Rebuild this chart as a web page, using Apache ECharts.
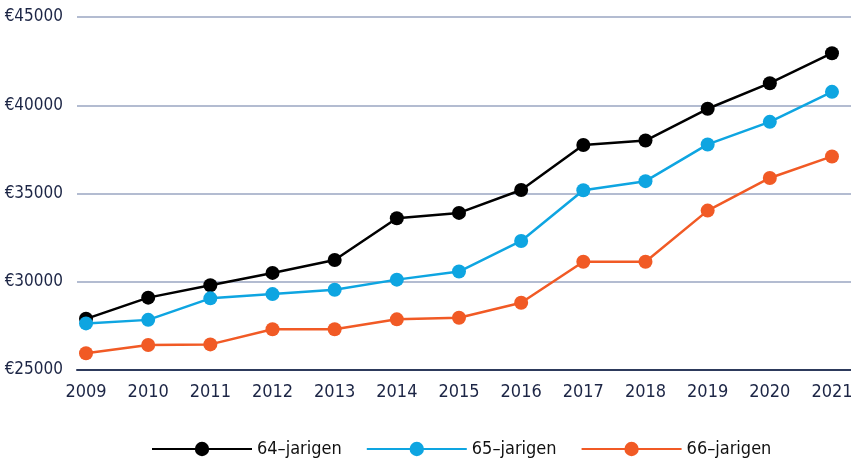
<!DOCTYPE html>
<html>
<head>
<meta charset="utf-8">
<script src="https://cdn.jsdelivr.net/npm/echarts@6/dist/echarts.min.js"></script>
<style>
html,body{margin:0;padding:0;background:#fff;}
#c{width:851px;height:464px;}
</style>
</head>
<body>
<div id="c"></div>
<script>
const years = [2009, 2010, 2011, 2012, 2013, 2014, 2015, 2016, 2017, 2018, 2019, 2020, 2021];
const s64 = [27900, 29100, 29800, 30500, 31230, 33600, 33900, 35200, 37750, 38000, 39800, 41250, 42950];
const s65 = [27640, 27840, 29060, 29300, 29550, 30120, 30580, 32310, 35180, 35700, 37780, 39060, 40760];
const s66 = [25950, 26420, 26450, 27310, 27310, 27870, 27960, 28810, 31130, 31130, 34030, 35880, 37100];
const seriesNames = ['64\u2013jarigen', '65\u2013jarigen', '66\u2013jarigen'];
const yTicks = [25000, 30000, 35000, 40000, 45000];

const FONT = '"DejaVu Sans Condensed", "Liberation Sans Narrow", sans-serif';
const TXT = '#1c2545';
const colors = ['#000000', '#0ea5e1', '#f15a25'];

function pairs(arr){ return years.map((y,i)=>[y, arr[i]]); }

const chart = echarts.init(document.getElementById('c'), null, {renderer:'canvas'});
chart.setOption({
  animation:false,
  grid:{left:77, right:0, top:17, bottom:94, containLabel:false, outerBoundsMode:'none'},
  xAxis:{
    type:'value', min:2008.855, max:2021.306,
    axisLine:{show:true, onZero:false, lineStyle:{color:'#2d3a5c', width:2}},
    axisTick:{show:false},
    splitLine:{show:false},
    axisLabel:{
      customValues: years,
      color:TXT, fontFamily:FONT, fontSize:18, margin:13,
      formatter:v=>String(v)
    }
  },
  yAxis:{
    type:'value', min:25000, max:45000, interval:5000,
    axisLine:{show:false}, axisTick:{show:false},
    splitLine:{lineStyle:{color:'#9aa6c2', width:1.5}},
    axisLabel:{color:TXT, fontFamily:FONT, fontSize:17, margin:14, formatter:v=>'\u20ac'+v}
  },
  legend:{
    bottom:1, left:146, itemWidth:100, itemHeight:18, itemGap:24,
    textStyle:{color:'#111', fontFamily:FONT, fontSize:18},
    data:seriesNames
  },
  series:[s64, s65, s66].map((arr,i)=>({
    name:seriesNames[i], type:'line', data:pairs(arr),
    symbol:'circle', symbolSize:14,
    lineStyle:{color:colors[i], width:2.5},
    itemStyle:{color:colors[i]}
  }))
});
</script>
</body>
</html>
